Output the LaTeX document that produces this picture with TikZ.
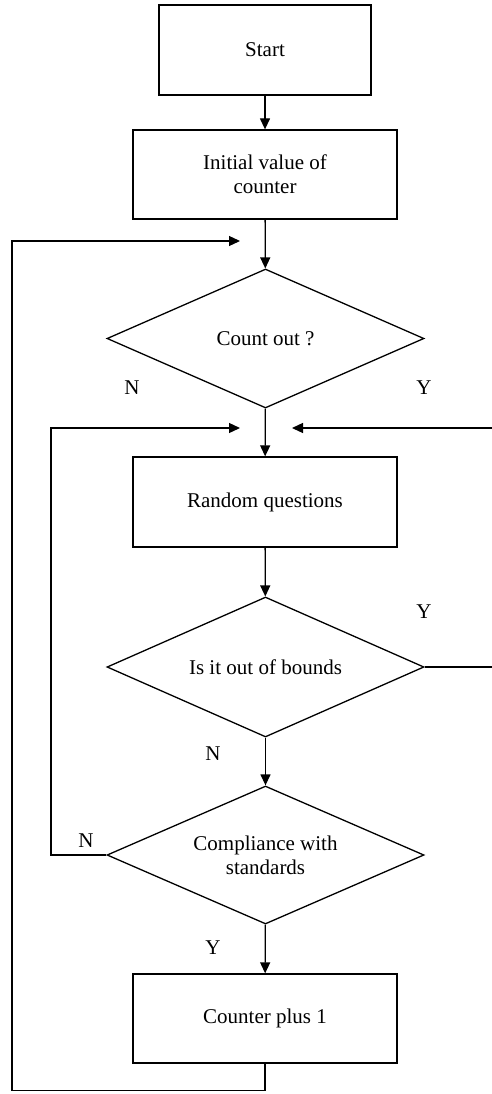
\documentclass[tikz,border=0pt]{standalone}
\usepackage{fontspec}
\setmainfont{Liberation Serif}
\usetikzlibrary{shapes.geometric,arrows.meta}
\begin{document}
\begin{tikzpicture}[x=1pt,y=-1pt,
  every node/.style={font=\fontsize{21}{24}\selectfont},
  box/.style={draw,line width=1.3pt,rectangle,minimum width=264pt,minimum height=89pt,inner sep=0pt,align=center},
  dec/.style={draw,line width=1.3pt,diamond,minimum width=317pt,minimum height=139pt,inner sep=0pt},
  dectext/.style={inner sep=0pt,align=center},
  lab/.style={inner sep=0pt},
  conn/.style={line width=1.3pt},
  arr/.style={conn,-{Triangle[length=11pt,width=10pt]}}]
\useasboundingbox (0,0) rectangle (492,1094);
\node[box,minimum width=212pt,minimum height=90pt] (start) at (265,50) {Start};
\node[box] (init) at (265,174.5) {Initial value of\\counter};
\node[dec] (d1) at (265.5,338.5) {};
\node[dectext] (d1t) at (d1.center) {Count out ?};
\node[box,minimum height=90pt] (rand) at (265,502) {Random questions};
\node[dec,minimum height=140pt] (d2) at (265.5,667) {};
\node[dectext] (d2t) at (d2.center) {Is it out of bounds};
\node[dec,minimum height=138pt] (d3) at (265.5,855) {};
\node[dectext] (d3t) at (d3.center) {Compliance with\\standards};
\node[box] (cnt) at (265,1018.5) {Counter plus 1};
\coordinate (t1) at (240,241);
\coordinate (t2) at (240,428);
\coordinate (t3) at (292,428);
\coordinate (r1) at (492,428);
\coordinate (r2) at (492,667);
\draw[arr] (start) -- (init);
\draw[arr] (init) -- (d1);
\draw[arr] (d1) -- (rand);
\draw[arr] (rand) -- (d2);
\draw[arr] (d2) -- (d3);
\draw[arr] (d3) -- (cnt);
\draw[arr] (cnt.south) -- ++(0,27) -| (12,241) -- (t1);
\draw[arr] (d3.west) -| (51,428) -- (t2);
\draw[conn] (d2.east) -- (r2);
\draw[arr] (r1) -- (t3);
\node[lab] (n1) at (132,388) {N};
\node[lab] (y1) at (424,388) {Y};
\node[lab] (y2) at (424,612) {Y};
\node[lab] (n2) at (213,754) {N};
\node[lab] (n3) at (86,841) {N};
\node[lab] (y3) at (213,948) {Y};
\end{tikzpicture}
\end{document}
